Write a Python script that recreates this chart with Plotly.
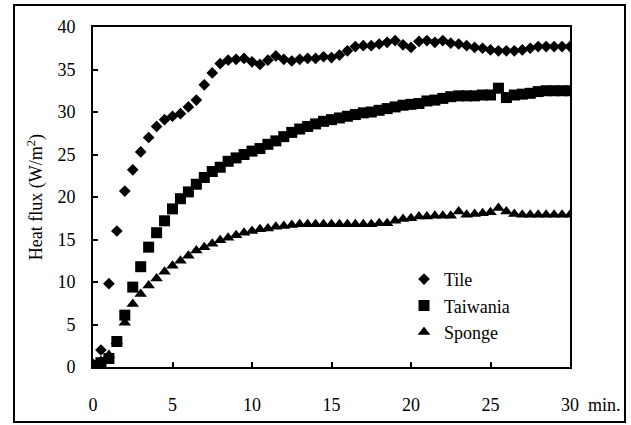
import plotly.graph_objects as go

minutes = [i * 0.5 for i in range(61)]

tile = [0.3, 2.0, 9.8, 16.0, 20.7, 23.2, 25.3, 27.0, 28.3, 29.1,
        29.5, 29.8, 30.6, 31.4, 33.2, 34.6, 35.7, 36.1, 36.2, 36.3,
        35.9, 35.6, 36.1, 36.6, 36.2, 36.0, 36.2, 36.3, 36.3, 36.5,
        36.4, 36.7, 37.2, 37.7, 37.8, 37.8, 38.0, 38.2, 38.4, 37.9,
        37.6, 38.3, 38.4, 38.2, 38.4, 38.1, 38.0, 37.8, 37.6, 37.5,
        37.3, 37.2, 37.2, 37.2, 37.3, 37.5, 37.7, 37.7, 37.7, 37.7,
        37.7]

taiwania = [0.2, 0.5, 1.0, 3.0, 6.1, 9.4, 11.8, 14.1, 15.8, 17.2,
            18.6, 19.8, 20.6, 21.5, 22.3, 23.0, 23.5, 24.2, 24.6, 25.0,
            25.4, 25.7, 26.2, 26.6, 27.1, 27.6, 28.0, 28.3, 28.6, 28.9,
            29.1, 29.3, 29.5, 29.7, 29.9, 30.0, 30.2, 30.4, 30.6, 30.8,
            30.9, 31.0, 31.3, 31.4, 31.6, 31.8, 31.9, 31.9, 31.9, 32.0,
            32.0, 32.8, 31.7, 32.0, 32.1, 32.2, 32.4, 32.5, 32.5, 32.5,
            32.5]

sponge = [0.2, 0.7, 1.4, 3.0, 5.2, 7.4, 8.6, 9.6, 10.4, 11.2,
          11.9, 12.5, 13.1, 13.7, 14.1, 14.5, 14.9, 15.2, 15.5, 15.8,
          16.0, 16.2, 16.3, 16.5, 16.6, 16.7, 16.8, 16.8, 16.8, 16.8,
          16.8, 16.8, 16.8, 16.8, 16.8, 16.8, 16.9, 16.9, 17.2, 17.4,
          17.5, 17.7, 17.7, 17.8, 17.8, 17.8, 18.3, 17.9, 18.0, 18.1,
          18.2, 18.7, 18.3, 18.0, 17.9, 17.9, 17.9, 17.9, 17.9, 17.9,
          17.9]

series_names = ["Tile", "Taiwania", "Sponge"]
x_ticks = [0, 5, 10, 15, 20, 25, 30]
y_ticks = [0, 5, 10, 15, 20, 25, 30, 35, 40]

FONT = "Liberation Serif"

fig = go.Figure()
fig.add_trace(go.Scatter(x=minutes, y=tile, mode="markers", name=series_names[0],
                         marker=dict(symbol="diamond", size=9, color="black")))
fig.add_trace(go.Scatter(x=minutes, y=taiwania, mode="markers", name=series_names[1],
                         marker=dict(symbol="square", size=11, color="black")))
fig.add_trace(go.Scatter(x=minutes, y=sponge, mode="markers", name=series_names[2],
                         marker=dict(symbol="triangle-up", size=11, color="black")))

fig.update_layout(
    width=631, height=425,
    margin=dict(l=93, r=61, t=27, b=58, autoexpand=False),
    paper_bgcolor="white", plot_bgcolor="white",
    font=dict(family=FONT, size=18, color="black"),
    showlegend=True,
    legend=dict(x=0.652, y=0.312, xanchor="left", yanchor="top",
                bgcolor="rgba(0,0,0,0)", font=dict(family=FONT, size=18),
                itemwidth=30, tracegroupgap=0),
    xaxis=dict(range=[0, 30], tickvals=x_ticks, ticks="inside", ticklen=5,
               tickwidth=1.5, tickcolor="black", showline=True, linecolor="black",
               linewidth=2, mirror=True, showgrid=False, zeroline=False,
               automargin=False,
               ticklabelstandoff=20, tickfont=dict(family=FONT, size=18)),
    yaxis=dict(range=[0, 40], tickvals=y_ticks, ticks="inside", ticklen=5,
               tickwidth=1.5, tickcolor="black", showline=True, linecolor="black",
               linewidth=2, mirror=True, showgrid=False, zeroline=False,
               automargin=False,
               ticklabelstandoff=12, tickfont=dict(family=FONT, size=18),
               title=dict(text="Heat flux (W/m<sup>2</sup>)", standoff=10,
                          font=dict(family=FONT, size=18))),
    shapes=[dict(type="rect", xref="paper", yref="paper",
                 x0=-0.1656, x1=1.1153, y0=-0.1618, y1=1.0647,
                 line=dict(color="black", width=2), fillcolor="rgba(0,0,0,0)")],
    annotations=[dict(text="min.", xref="paper", yref="paper", x=1.072, y=-0.111,
                      xanchor="center", yanchor="middle", showarrow=False,
                      font=dict(family=FONT, size=18))],
)

fig.write_html("out.html", config={"displayModeBar": False},
               post_script="document.body.style.margin='0';document.body.style.padding='0';")
